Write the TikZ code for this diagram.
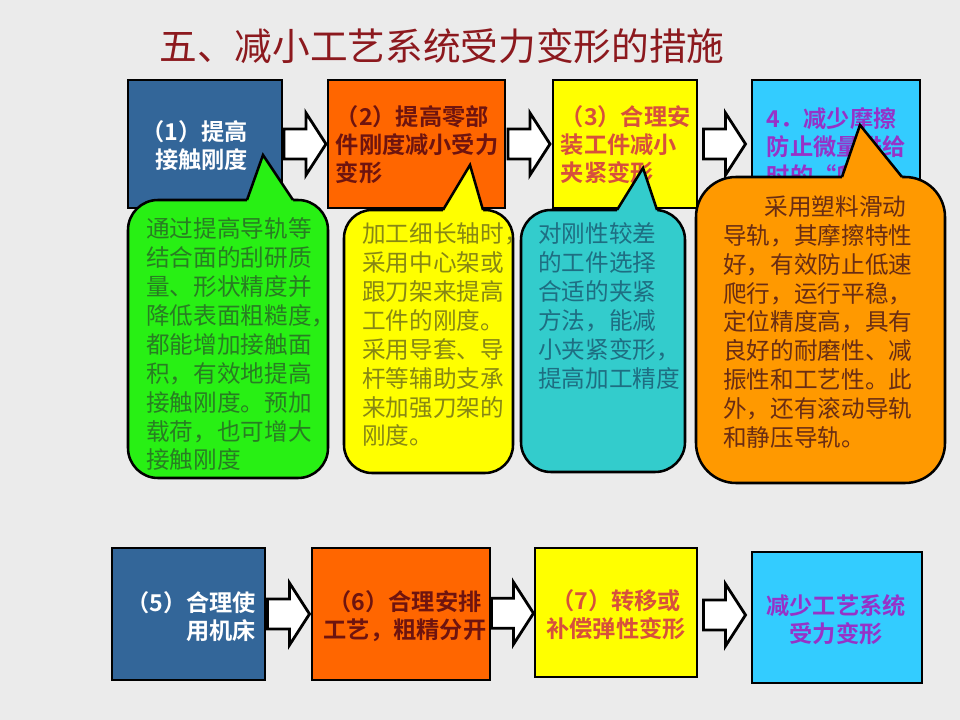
\documentclass[tikz,border=0pt]{standalone}
\usepackage{fontspec}
\setmainfont{Noto Sans CJK SC}[BoldFont={Noto Sans CJK SC Bold}]
\usetikzlibrary{calc}

\definecolor{pagebg}{RGB}{235,235,235}
\definecolor{steel}{RGB}{51,102,153}
\definecolor{tangerine}{RGB}{255,102,0}
\definecolor{lemon}{RGB}{255,255,0}
\definecolor{sky}{RGB}{51,204,255}
\definecolor{leaf}{RGB}{40,240,20}
\definecolor{lagoon}{RGB}{51,204,204}
\definecolor{amber}{RGB}{255,153,0}
\definecolor{titlered}{RGB}{140,25,30}
\definecolor{maroontxt}{RGB}{110,20,15}
\definecolor{salmontxt}{RGB}{215,80,60}
\definecolor{violettxt}{RGB}{150,50,200}
\definecolor{greentxt}{RGB}{40,125,35}
\definecolor{olivetxt}{RGB}{135,135,20}
\definecolor{tealtxt}{RGB}{30,110,130}
\definecolor{browntxt}{RGB}{105,45,20}

\tikzset{
  box/.style={draw=black, line width=2pt, inner sep=0pt},
  boxtxt/.style={font=\fontsize{16.5}{20}\selectfont\bfseries, inner sep=0pt},
  tiptxt/.style={font=\fontsize{16.8}{20.6}\selectfont, inner sep=0pt, align=left, anchor=north west},
  bubble/.style={draw=black, line width=1.8pt},
  hollow/.pic={\draw[line width=2pt, fill=white, line join=miter]
    (-21,-15) -- (1,-15) -- (1,-31) -- (21,0) -- (1,31) -- (1,15) -- (-21,15) -- cycle;}
}

% fill, x1, y1, x2, y2, pointer base left, pointer base right, tip, radius
\newcommand{\speech}[9]{%
  \draw[bubble, fill=#1, rounded corners=#9] (#2,#3) rectangle (#4,#5);
  \fill[#1] (#6,#3) -- #8 -- (#7,#3) -- (#7,#3+3) -- (#6,#3+3) -- cycle;
  \draw[bubble, line join=miter] (#6,#3) -- #8 -- (#7,#3);
}

\begin{document}
\begin{tikzpicture}[x=0.025cm, y=-0.025cm]
\useasboundingbox (0,0) rectangle (960,720);
\fill[pagebg] (0,0) rectangle (960,720);

\node[font=\fontsize{26.8}{30}\selectfont, text=titlered, inner sep=0pt] (title) at (442,46) {五、减小工艺系统受力变形的措施};

% top row
\node[box, fill=steel, minimum width=3.85cm, minimum height=3.2cm] (b1) at (205,144) {};
\node[box, fill=tangerine, minimum width=4.425cm, minimum height=3.2cm] (b2) at (416.5,144) {};
\node[box, fill=lemon, minimum width=3.6cm, minimum height=3.2cm] (b3) at (625,144) {};
\node[box, fill=sky, minimum width=4.2cm, minimum height=3.2cm] (b4) at (836,144) {};

\node[boxtxt, text=white, align=right, anchor=east] (b1t) at ($(b1.east)+(-35,2)$) {（1）提高\\接触刚度};
\node[boxtxt, text=maroontxt, align=left, anchor=west] (b2t) at ($(b2.west)+(9,1)$) {（2）提高零部\\件刚度减小受力\\变形};
\node[boxtxt, text=salmontxt, align=left, anchor=west] (b3t) at ($(b3.west)+(9,1)$) {（3）合理安\\装工件减小\\夹紧变形};
\node[boxtxt, text=violettxt, align=left, anchor=west] (b4t) at ($(b4.west)+(16,3)$) {4．减少摩擦\\防止微量进给\\时的“爬行”};

\pic at ($(b1.east)!0.5!(b2.west)$) {hollow};
\pic at ($(b2.east)!0.5!(b3.west)$) {hollow};
\pic at ($(b3.east)!0.5!(b4.west)$) {hollow};

% callouts
\speech{leaf}{128}{200}{328}{478}{247}{293}{(263,155)}{0.75cm}
\speech{lemon}{344}{210}{513}{473}{443}{483}{(470,165)}{0.7cm}
\speech{lagoon}{521}{210}{685}{472}{617}{657}{(643,168)}{0.75cm}
\speech{amber}{696}{177}{945}{483}{842}{902}{(860,125)}{1cm}

\node[tiptxt, text=greentxt] (g1) at (146,217) {通过提高导轨等\\结合面的刮研质\\量、形状精度并\\降低表面粗糙度，\\都能增加接触面\\积，有效地提高\\接触刚度。预加\\载荷，也可增大\\接触刚度};
\node[tiptxt, text=olivetxt] (y1) at (362,222) {加工细长轴时，\\采用中心架或\\跟刀架来提高\\工件的刚度。\\采用导套、导\\杆等辅助支承\\来加强刀架的\\刚度。};
\node[tiptxt, text=tealtxt] (c1) at (538,222) {对刚性较差\\的工件选择\\合适的夹紧\\方法，能减\\小夹紧变形，\\提高加工精度};
\node[tiptxt, text=browntxt] (o1) at (723,195) {\hspace*{1.75em}采用塑料滑动\\导轨，其摩擦特性\\好，有效防止低速\\爬行，运行平稳，\\定位精度高，具有\\良好的耐磨性、减\\振性和工艺性。此\\外，还有滚动导轨\\和静压导轨。};

% bottom row
\node[box, fill=steel, minimum width=3.825cm, minimum height=3.3cm] (b5) at (188.5,614) {};
\node[box, fill=tangerine, minimum width=4.45cm, minimum height=3.3cm] (b6) at (401,614) {};
\node[box, fill=lemon, minimum width=4.05cm, minimum height=3.225cm] (b7) at (616,612.5) {};
\node[box, fill=sky, minimum width=4.25cm, minimum height=3.275cm] (b8) at (837,617.5) {};

\node[boxtxt, text=white, align=right, anchor=east] (b5t) at ($(b5.east)+(-10,2.5)$) {（5）合理使\\用机床};
\node[boxtxt, text=maroontxt, align=center] (b6t) at ($(b6.center)+(4,2.5)$) {（6）合理安排\\工艺，粗精分开};
\node[boxtxt, text=salmontxt, align=center] (b7t) at ($(b7.center)+(0,2.5)$) {（7）转移或\\补偿弹性变形};
\node[boxtxt, text=violettxt, align=center] (b8t) at ($(b8.center)+(-1,2.5)$) {减少工艺系统\\受力变形};

\pic at ($(b5.east)!0.5!(b6.west)$) {hollow};
\pic at ($(b6.east)!0.5!(b7.west)$) {hollow};
\pic at ($(b7.east)!0.5!(b8.west)$) {hollow};
\end{tikzpicture}
\end{document}
